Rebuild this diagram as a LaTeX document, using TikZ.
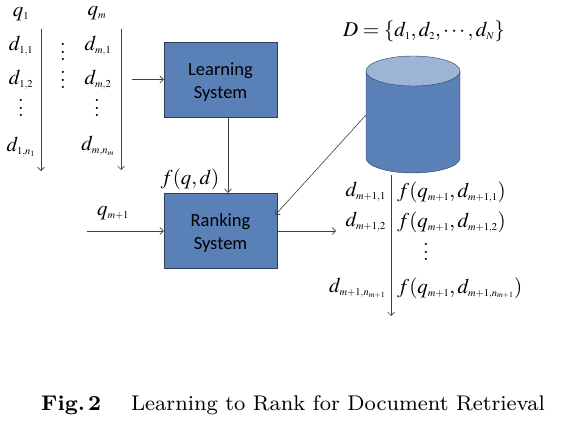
\documentclass[tikz,border=0pt]{standalone}
\usepackage[no-math]{fontspec}
\usepackage{mathptmx}
\renewcommand{\rmdefault}{lmr}
\newfontfamily\boxfont{Carlito}
\DeclareMathSizes{21}{21}{10.5}{8}
\usetikzlibrary{arrows.meta}
\font\capfont="[lmroman8-regular]" at 21.25pt
\font\capbold="[lmroman8-bold]" at 21.25pt
\definecolor{boxblue}{HTML}{5A80B8}
\definecolor{boxtop}{HTML}{9DB4D6}
\definecolor{boxline}{HTML}{2F3E55}
\newcommand{\tdots}{\vbox{\baselineskip=7.5pt \lineskiplimit=0pt \hbox{\textbf{.}}\hbox{\textbf{.}}\hbox{\textbf{.}}}}
\newcommand{\boxstrut}{\rule{0pt}{18pt}}
\tikzset{
    sysbox/.style={draw=boxline, fill=boxblue, minimum width=113pt, minimum height=75pt, align=center, inner sep=0pt, font=\boxfont\fontsize{18.5}{23}\selectfont},
    mathlabel/.style={draw=none, inner sep=0pt, font=\fontsize{21}{23}\selectfont},
    dotlabel/.style={draw=none, inner sep=0pt, font=\fontsize{15}{16}\selectfont},
    conn/.style={-{Straight Barb[length=3.5pt,width=7pt]}, draw=black!75, line width=0.6pt}
}
\begin{document}
\begin{tikzpicture}[x=1pt, y=-1pt, node distance={151pt}]
    \useasboundingbox (0,0) rectangle (568,428);
    \node[sysbox] (1) at (220.5,79.5) {\boxstrut Learning\\System};
    \node[sysbox] (2) [below of=1] {\boxstrut Ranking\\System};
    % database
    \fill[boxblue] (366,71) -- (366,158) arc[start angle=180, end angle=0, x radius=47, y radius=15] -- (460,71) -- cycle;
    \draw[boxline] (366,71) -- (366,158) arc[start angle=180, end angle=0, x radius=47, y radius=15] -- (460,71);
    \draw[boxline, fill=boxtop] (413,71) ellipse[x radius=47, y radius=15];
    \coordinate (3) at (366,115);
    % document lists
    \node[mathlabel] (4) at (21,14) {$q_1$};
    \node[mathlabel] (5) at (97,13) {$q_m$};
    \node[mathlabel] (6) at (21,46) {$d_{1,1}$};
    \node[mathlabel] (7) at (21,80) {$d_{1,2}$};
    \node[dotlabel] (8) at (21,108) {\tdots};
    \node[mathlabel] (9) at (21,147) {$d_{1,n_1}$};
    \node[mathlabel] (10) at (98,46) {$d_{m,1}$};
    \node[mathlabel] (11) at (98,80) {$d_{m,2}$};
    \node[dotlabel] (12) at (97,108) {\tdots};
    \node[mathlabel] (13) at (98,146) {$d_{m,n_m}$};
    \node[dotlabel] (14) at (63,52) {\tdots};
    \node[dotlabel] (15) at (63,80) {\tdots};
    \node[mathlabel] (16) at (190,179) {$f(q,d)$};
    \node[mathlabel] (17) at (113,213) {$q_{m+1}$};
    \node[mathlabel] (18) at (424,31) {$D=\{d_1,d_2,\cdots,d_N\}$};
    % ranked output
    \foreach \n/\y/\s in {19/192/1, 20/222/2, 21/288/{n_{m+1}}} {
        \node[mathlabel, anchor=east] (\n) at (386,\y) {$d_{m+1,\s}$};
    }
    \foreach \n/\y/\s in {22/192/1, 23/222/2, 24/288/{n_{m+1}}} {
        \node[mathlabel, anchor=west] (\n) at (397,\y) {$f(q_{m+1},d_{m+1,\s})$};
    }
    \node[dotlabel] (25) at (426,252) {\tdots};
    \node[draw=none, inner sep=0pt, anchor=base west] (26) at (41,410) {{\capbold Fig.\kern3pt 2}\hspace{30pt}{\capfont Learning to Rank for Document Retrieval}};
    % free ends
    \coordinate (a1) at (41,29);
    \coordinate (a2) at (41,171);
    \coordinate (b1) at (121,29);
    \coordinate (b2) at (121,170);
    \coordinate (c1) at (132,79.5);
    \coordinate (e1) at (87,231);
    \coordinate (g1) at (336,231);
    \coordinate (h1) at (391,175);
    \coordinate (h2) at (391,316);
\begin{scope}[conn]
    \draw (a1) -- (a2);
    \draw (b1) -- (b2);
    \draw (c1) -- (1.west);
    \draw ([xshift=7.5pt]1.south) -- ([xshift=7.5pt]2.north);
    \draw (3) -- ([xshift=-2pt]2.east |- 0,215);
    \draw (e1) -- (e1 -| 2.west);
    \draw (e1 -| 2.east) -- (g1);
    \draw (h1) -- (h2);
\end{scope}
\end{tikzpicture}
\end{document}
